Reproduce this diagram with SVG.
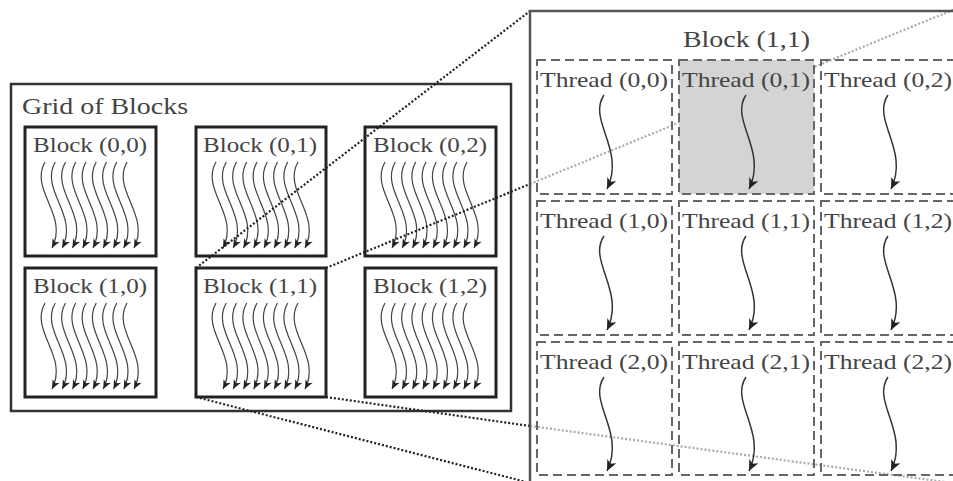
<svg xmlns="http://www.w3.org/2000/svg" xmlns:xlink="http://www.w3.org/1999/xlink" width="953" height="481" viewBox="0 0 953 481">
  <style>
    .lbl { font-family: "Liberation Serif", "Times New Roman", serif; fill: #444; }
    .grid { fill: none; stroke: #333; stroke-width: 2.5; }
    .blk { fill: #fff; stroke: #222; stroke-width: 3; }
    .panel { fill: none; stroke: #555; stroke-width: 2.5; }
    .cell { fill: none; stroke: #666; stroke-width: 2; stroke-dasharray: 9 5; }
    .cell.sel { fill: #d4d4d4; }
    .warp { fill: none; stroke: #444; stroke-width: 1.2; marker-end: url(#headS); }
    .thr { fill: none; stroke: #333; stroke-width: 1.5; marker-end: url(#headL); }
    .dot { fill: none; stroke: #222; stroke-width: 2.2; stroke-dasharray: 2 2; }
    .dot.faint { stroke: #aaa; }
  </style>
  <defs>
    <marker id="headS" markerUnits="userSpaceOnUse" viewBox="-10 -5 11 10" refX="0" refY="0" markerWidth="11" markerHeight="10" orient="auto">
      <path d="M0,0 L-9,-4 L-6.5,0 L-9,4 Z" fill="#222"/>
    </marker>
    <marker id="headL" markerUnits="userSpaceOnUse" viewBox="-12 -6 13 12" refX="0" refY="0" markerWidth="13" markerHeight="12" orient="auto">
      <path d="M0,0 L-11,-5 L-8,0 L-11,5 Z" fill="#222"/>
    </marker>
    <!-- nine warped thread arrows, drawn relative to a block's top-left corner -->
    <g id="warps">
      <path class="warp" d="M20,35 C4,63 44,88 27,121"/>
      <path class="warp" d="M30.25,35 C14.25,63 54.25,88 37.25,121"/>
      <path class="warp" d="M40.5,35 C24.5,63 64.5,88 47.5,121"/>
      <path class="warp" d="M50.75,35 C34.75,63 74.75,88 57.75,121"/>
      <path class="warp" d="M61,35 C45,63 85,88 68,121"/>
      <path class="warp" d="M71.25,35 C55.25,63 95.25,88 78.25,121"/>
      <path class="warp" d="M81.5,35 C65.5,63 105.5,88 88.5,121"/>
      <path class="warp" d="M91.75,35 C75.75,63 115.75,88 98.75,121"/>
      <path class="warp" d="M102,35 C86,63 126,88 109,121"/>
    </g>
    <!-- single thread arrow, relative to a cell's top-left corner -->
    <path id="tarrow" class="thr" d="M67,35 C50,60 89,90 70,129"/>
  </defs>

  <rect width="953" height="481" fill="#fff"/>

  <!-- left: grid of blocks -->
  <g id="grid">
    <rect class="grid" x="11" y="84" width="500" height="327"/>
    <text class="lbl" x="22" y="114" font-size="24" textLength="166" lengthAdjust="spacingAndGlyphs">Grid of Blocks</text>
  </g>

  <g id="block-0-0">
    <rect class="blk" x="25" y="127" width="131" height="129"/>
    <text class="lbl" x="33" y="152" font-size="21" textLength="114" lengthAdjust="spacingAndGlyphs">Block (0,0)</text>
    <use xlink:href="#warps" transform="translate(25,127)"/>
  </g>
  <g id="block-0-1">
    <rect class="blk" x="196" y="127" width="130" height="129"/>
    <text class="lbl" x="203" y="152" font-size="21" textLength="114" lengthAdjust="spacingAndGlyphs">Block (0,1)</text>
    <use xlink:href="#warps" transform="translate(196,127)"/>
  </g>
  <g id="block-0-2">
    <rect class="blk" x="365" y="127" width="131" height="129"/>
    <text class="lbl" x="373" y="152" font-size="21" textLength="114" lengthAdjust="spacingAndGlyphs">Block (0,2)</text>
    <use xlink:href="#warps" transform="translate(365,127)"/>
  </g>
  <g id="block-1-0">
    <rect class="blk" x="25" y="268" width="131" height="129"/>
    <text class="lbl" x="33" y="293" font-size="21" textLength="114" lengthAdjust="spacingAndGlyphs">Block (1,0)</text>
    <use xlink:href="#warps" transform="translate(25,268)"/>
  </g>
  <g id="block-1-1">
    <rect class="blk" x="196" y="268" width="130" height="129"/>
    <text class="lbl" x="203" y="293" font-size="21" textLength="114" lengthAdjust="spacingAndGlyphs">Block (1,1)</text>
    <use xlink:href="#warps" transform="translate(196,268)"/>
  </g>
  <g id="block-1-2">
    <rect class="blk" x="365" y="268" width="131" height="129"/>
    <text class="lbl" x="373" y="293" font-size="21" textLength="114" lengthAdjust="spacingAndGlyphs">Block (1,2)</text>
    <use xlink:href="#warps" transform="translate(365,268)"/>
  </g>

  <!-- zoom connectors: solid dots outside the panel, faint inside it -->
  <g id="connectors">
    <line class="dot" x1="196" y1="268" x2="530" y2="11"/>
    <line class="dot" x1="326" y1="268" x2="530" y2="184"/>
    <line class="dot faint" x1="530" y1="184" x2="955" y2="9"/>
    <line class="dot" x1="196" y1="397" x2="530" y2="483"/>
    <line class="dot" x1="326" y1="397" x2="530" y2="426"/>
    <line class="dot faint" x1="530" y1="426" x2="960" y2="484"/>
  </g>

  <!-- right: enlarged Block (1,1) with its threads -->
  <g id="block-detail">
    <rect class="panel" x="530" y="11" width="440" height="490"/>
    <text class="lbl" x="683" y="47" font-size="23" textLength="127" lengthAdjust="spacingAndGlyphs">Block (1,1)</text>
  </g>

  <g id="thread-0-0">
    <rect class="cell" x="537" y="60" width="135" height="134"/>
    <text class="lbl" x="540" y="87" font-size="21" textLength="128" lengthAdjust="spacingAndGlyphs">Thread (0,0)</text>
    <use xlink:href="#tarrow" transform="translate(537,60)"/>
  </g>
  <g id="thread-0-1">
    <rect class="cell sel" x="679" y="60" width="135" height="134"/>
    <text class="lbl" x="682" y="87" font-size="21" textLength="128" lengthAdjust="spacingAndGlyphs">Thread (0,1)</text>
    <use xlink:href="#tarrow" transform="translate(679,60)"/>
  </g>
  <g id="thread-0-2">
    <rect class="cell" x="821" y="60" width="135" height="134"/>
    <text class="lbl" x="824" y="87" font-size="21" textLength="128" lengthAdjust="spacingAndGlyphs">Thread (0,2)</text>
    <use xlink:href="#tarrow" transform="translate(821,60)"/>
  </g>
  <g id="thread-1-0">
    <rect class="cell" x="537" y="201" width="135" height="134"/>
    <text class="lbl" x="540" y="228" font-size="21" textLength="128" lengthAdjust="spacingAndGlyphs">Thread (1,0)</text>
    <use xlink:href="#tarrow" transform="translate(537,201)"/>
  </g>
  <g id="thread-1-1">
    <rect class="cell" x="679" y="201" width="135" height="134"/>
    <text class="lbl" x="682" y="228" font-size="21" textLength="128" lengthAdjust="spacingAndGlyphs">Thread (1,1)</text>
    <use xlink:href="#tarrow" transform="translate(679,201)"/>
  </g>
  <g id="thread-1-2">
    <rect class="cell" x="821" y="201" width="135" height="134"/>
    <text class="lbl" x="824" y="228" font-size="21" textLength="128" lengthAdjust="spacingAndGlyphs">Thread (1,2)</text>
    <use xlink:href="#tarrow" transform="translate(821,201)"/>
  </g>
  <g id="thread-2-0">
    <rect class="cell" x="537" y="342" width="135" height="133"/>
    <text class="lbl" x="540" y="369" font-size="21" textLength="128" lengthAdjust="spacingAndGlyphs">Thread (2,0)</text>
    <use xlink:href="#tarrow" transform="translate(537,342)"/>
  </g>
  <g id="thread-2-1">
    <rect class="cell" x="679" y="342" width="135" height="133"/>
    <text class="lbl" x="682" y="369" font-size="21" textLength="128" lengthAdjust="spacingAndGlyphs">Thread (2,1)</text>
    <use xlink:href="#tarrow" transform="translate(679,342)"/>
  </g>
  <g id="thread-2-2">
    <rect class="cell" x="821" y="342" width="135" height="133"/>
    <text class="lbl" x="824" y="369" font-size="21" textLength="128" lengthAdjust="spacingAndGlyphs">Thread (2,2)</text>
    <use xlink:href="#tarrow" transform="translate(821,342)"/>
  </g>
</svg>
